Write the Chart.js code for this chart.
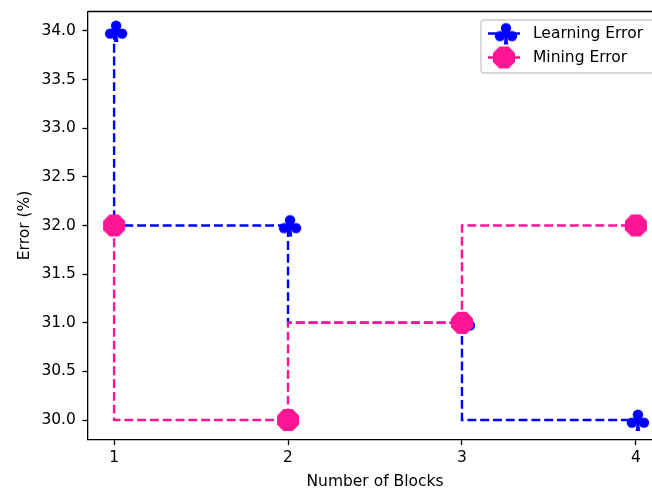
<!DOCTYPE html>
<html>
<head>
<meta charset="utf-8">
<script src="https://cdn.jsdelivr.net/npm/chart.js@4/dist/chart.umd.min.js"></script>
<style>
  html, body { margin: 0; padding: 0; background: #fff; overflow: hidden; }
  #wrap { width: 652px; height: 495px; overflow: hidden; }
</style>
</head>
<body>
<div id="wrap"><canvas id="c" width="672" height="495"></canvas></div>
<script>
// Series data
const blocks = [1, 2, 3, 4];
const learningError = [34.0, 32.0, 31.0, 30.0];
const miningError = [32.0, 30.0, 31.0, 32.0];
const yTickValues = [30.0, 30.5, 31.0, 31.5, 32.0, 32.5, 33.0, 33.5, 34.0];
const seriesNames = ['Learning Error', 'Mining Error'];
const xTitle = 'Number of Blocks';
const yTitle = 'Error (%)';

const BLUE = '#0000ff';
const PINK = '#ff1493';
const FONT = { family: '"DejaVu Sans", sans-serif', size: 15.5 };
const DASH = [8.9, 3.9];

// Club-suit marker drawn on a small canvas
function clubMarker(color) {
  const c = document.createElement('canvas');
  c.width = 30; c.height = 30;
  const g = c.getContext('2d');
  g.fillStyle = color;
  const cx = 17, cy = 15;
  [[0, -5.3], [-6, 2.6], [6, 2.6]].forEach(([dx, dy]) => {
    g.beginPath(); g.arc(cx + dx, cy + dy, 5.2, 0, Math.PI * 2); g.fill();
  });
  g.beginPath(); g.arc(cx, cy + 0.8, 3.6, 0, Math.PI * 2); g.fill();
  g.beginPath();
  g.moveTo(cx - 1.1, cy + 2);
  g.lineTo(cx + 1.1, cy + 2);
  g.lineTo(cx + 2.3, cy + 11);
  g.lineTo(cx - 2.3, cy + 11);
  g.closePath(); g.fill();
  return c;
}

// Flat-topped octagon marker
function octagonMarker(color) {
  const c = document.createElement('canvas');
  c.width = 26; c.height = 26;
  const g = c.getContext('2d');
  g.fillStyle = color;
  const R = 11 / Math.cos(Math.PI / 8);
  g.beginPath();
  for (let k = 0; k < 8; k++) {
    const a = Math.PI / 8 + k * Math.PI / 4;
    g.lineTo(13 + R * Math.cos(a), 13 + R * Math.sin(a));
  }
  g.closePath(); g.fill();
  return c;
}

const clubImg = clubMarker(BLUE);
const octImg = octagonMarker(PINK);

// Top and right spines
const framePlugin = {
  id: 'frame',
  afterDatasetsDraw(chart) {
    const { ctx, chartArea: a } = chart;
    ctx.save();
    ctx.strokeStyle = '#000';
    ctx.lineWidth = 1.3;
    ctx.beginPath();
    ctx.moveTo(a.left, a.top);
    ctx.lineTo(a.right, a.top);
    ctx.lineTo(a.right, a.bottom);
    ctx.stroke();
    ctx.restore();
  }
};

// Boxed legend in the upper-right corner of the plot area
const legendPlugin = {
  id: 'boxLegend',
  afterDraw(chart) {
    const { ctx, chartArea: a } = chart;
    const left = a.right - 181, top = a.top + 8.5, w = 174, h = 53;
    ctx.save();
    ctx.beginPath();
    ctx.roundRect(left, top, w, h, 3);
    ctx.fillStyle = 'rgba(255,255,255,0.8)';
    ctx.fill();
    ctx.strokeStyle = '#cccccc';
    ctx.lineWidth = 1.3;
    ctx.stroke();
    const rows = [
      { name: seriesNames[0], color: BLUE, img: clubImg, y: a.top + 22 },
      { name: seriesNames[1], color: PINK, img: octImg, y: a.top + 46 }
    ];
    rows.forEach(r => {
      ctx.strokeStyle = r.color;
      ctx.lineWidth = 2.4;
      ctx.setLineDash(DASH);
      ctx.beginPath();
      ctx.moveTo(left + 7, r.y);
      ctx.lineTo(left + 39, r.y);
      ctx.stroke();
      ctx.setLineDash([]);
      ctx.drawImage(r.img, left + 23 - r.img.width / 2, r.y - r.img.height / 2);
      ctx.fillStyle = '#000';
      ctx.font = `${FONT.size}px ${FONT.family}`;
      ctx.textBaseline = 'middle';
      ctx.textAlign = 'left';
      ctx.fillText(r.name, left + 52, r.y);
    });
    ctx.restore();
  }
};

new Chart(document.getElementById('c'), {
  type: 'line',
  data: {
    datasets: [
      {
        label: seriesNames[0],
        data: blocks.map((x, i) => ({ x, y: learningError[i] })),
        borderColor: BLUE,
        backgroundColor: BLUE,
        borderWidth: 2.4,
        borderDash: DASH,
        stepped: 'after',
        pointStyle: clubImg,
        pointRadius: 11,
        fill: false,
        clip: false,
        order: 1
      },
      {
        label: seriesNames[1],
        data: blocks.map((x, i) => ({ x, y: miningError[i] })),
        borderColor: PINK,
        backgroundColor: PINK,
        borderWidth: 2.4,
        borderDash: DASH,
        stepped: 'after',
        pointStyle: octImg,
        pointRadius: 11,
        fill: false,
        clip: false,
        order: 0
      }
    ]
  },
  options: {
    responsive: false,
    animation: false,
    devicePixelRatio: 1,
    layout: { autoPadding: false, padding: { top: 11.5, right: 10, left: 0, bottom: 0 } },
    plugins: { legend: { display: false }, tooltip: { enabled: false } },
    scales: {
      x: {
        type: 'linear',
        min: 0.85,
        max: 4.15,
        afterBuildTicks: s => { s.ticks = blocks.map(v => ({ value: v })); },
        afterFit: s => { s.height = 55.5; s.paddingLeft = 0; s.paddingRight = 0; },
        grid: { drawOnChartArea: false, drawTicks: true, tickLength: 5.6, tickWidth: 1.3, tickColor: '#000' },
        border: { display: true, color: '#000', width: 1.3 },
        ticks: { font: FONT, color: '#000', padding: 3.4, maxRotation: 0, autoSkip: false, callback: v => String(v) },
        title: { display: true, text: xTitle, font: FONT, color: '#000', padding: { top: 0, bottom: 3.7 } }
      },
      y: {
        type: 'linear',
        min: 29.8,
        max: 34.2,
        afterBuildTicks: s => { s.ticks = yTickValues.map(v => ({ value: v })); },
        afterFit: s => { s.width = 88; s.paddingTop = 0; s.paddingBottom = 0; },
        grid: { drawOnChartArea: false, drawTicks: true, tickLength: 5.6, tickWidth: 1.3, tickColor: '#000' },
        border: { display: true, color: '#000', width: 1.3 },
        ticks: { font: FONT, color: '#000', padding: 6.5, autoSkip: false, callback: v => Number(v).toFixed(1) },
        title: { display: true, text: yTitle, font: FONT, color: '#000', padding: { top: 16, bottom: 0 } }
      }
    }
  },
  plugins: [framePlugin, legendPlugin]
});
</script>
</body>
</html>
